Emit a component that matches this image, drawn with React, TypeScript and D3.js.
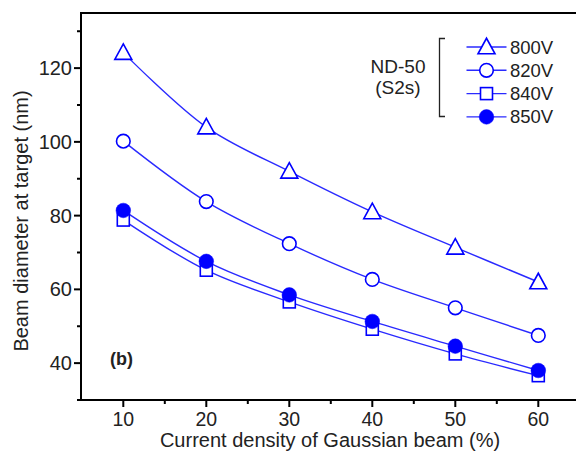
import React from "react";
import * as d3 from "d3";

const currentDensity = [10, 20, 30, 40, 50, 60];
const v800 = [124.2, 104, 92, 81, 71.4, 62];
const v820 = [100.2, 83.8, 72.4, 62.7, 55, 47.5];
const v840 = [78.8, 65.2, 56.6, 49.2, 42.5, 36.6];
const v850 = [81.4, 67.6, 58.5, 51.3, 44.6, 38];
const seriesNames = ["800V", "820V", "840V", "850V"];
const xMajorTicks = [10, 20, 30, 40, 50, 60];
const xMinorTicks = [15, 25, 35, 45, 55, 65];
const yMajorTicks = [40, 60, 80, 100, 120];
const yMinorTicks = [30, 50, 70, 90, 110, 130];

const W = 576;
const H = 457;
const FONT = "'Liberation Sans', Arial, Helvetica, sans-serif";
const BLUE = "#0000ff";
const LINE = "#2a2aff";
const TEXT = "#222";

const x = d3.scaleLinear().domain([5, 65]).range([81.8, 579.8]);
const y = d3.scaleLinear().domain([30, 135]).range([400, 12.8]);

type Kind = "tri" | "circ" | "sq" | "dot";

function Marker({ kind, cx, cy }: { kind: Kind; cx: number; cy: number }) {
  if (kind === "tri") {
    const h = 15.5, w = 17;
    const pts = [
      [cx, cy - h / 2 - 1],
      [cx + w / 2, cy + h / 2 - 1],
      [cx - w / 2, cy + h / 2 - 1],
    ];
    return <polygon points={pts.map((p) => p.join(",")).join(" ")} fill="#fff" stroke={BLUE} strokeWidth={1.6} />;
  }
  if (kind === "circ") return <circle cx={cx} cy={cy} r={6.8} fill="#fff" stroke={BLUE} strokeWidth={1.6} />;
  if (kind === "sq") return <rect x={cx - 6} y={cy - 6} width={12} height={12} fill="#fff" stroke={BLUE} strokeWidth={1.6} />;
  return <circle cx={cx} cy={cy} r={7.3} fill={BLUE} stroke={BLUE} strokeWidth={0.5} />;
}

export default function App() {
  const series: { name: string; vals: number[]; kind: Kind }[] = [
    { name: seriesNames[0], vals: v800, kind: "tri" },
    { name: seriesNames[1], vals: v820, kind: "circ" },
    { name: seriesNames[2], vals: v840, kind: "sq" },
    { name: seriesNames[3], vals: v850, kind: "dot" },
  ];
  const line = d3
    .line<number>()
    .x((_, i) => x(currentDensity[i]))
    .y((d) => y(d))
    .curve(d3.curveCatmullRom.alpha(0.5));

  const axisX = 81;
  const axisY = 400;

  return (
    <svg width={W} height={H} style={{ position: "absolute", left: 0, top: 0, display: "block" }} fontFamily={FONT}>
      <rect width={W} height={H} fill="#fff" />
      {/* frame */}
      <line x1={axisX} x2={W} y1={13} y2={13} stroke="#000" strokeWidth={2} />
      <line x1={axisX} x2={axisX} y1={12} y2={axisY + 1} stroke="#000" strokeWidth={2} />
      <line x1={axisX - 1} x2={W} y1={axisY} y2={axisY} stroke="#000" strokeWidth={2} />
      {/* y ticks */}
      {yMajorTicks.map((t) => (
        <g key={"ym" + t}>
          <line x1={axisX - 7} x2={axisX} y1={y(t)} y2={y(t)} stroke="#000" strokeWidth={2} />
          <text x={72} y={y(t) + 7} textAnchor="end" fontSize={20} fill={TEXT}>
            {t}
          </text>
        </g>
      ))}
      {yMinorTicks.map((t) => (
        <line key={"yn" + t} x1={axisX - 4} x2={axisX} y1={y(t)} y2={y(t)} stroke="#000" strokeWidth={2} />
      ))}
      {/* x ticks */}
      {xMajorTicks.map((t) => (
        <g key={"xm" + t}>
          <line x1={x(t)} x2={x(t)} y1={axisY} y2={axisY + 7} stroke="#000" strokeWidth={2} />
          <text x={x(t)} y={425.5} textAnchor="middle" fontSize={19.5} fill={TEXT}>
            {t}
          </text>
        </g>
      ))}
      {xMinorTicks.map((t) => (
        <line key={"xn" + t} x1={x(t)} x2={x(t)} y1={axisY} y2={axisY + 4} stroke="#000" strokeWidth={2} />
      ))}
      {/* axis titles */}
      <text x={330} y={447} textAnchor="middle" fontSize={20} fill={TEXT}>
        Current density of Gaussian beam (%)
      </text>
      <text transform={`translate(28,${221}) rotate(-90)`} textAnchor="middle" fontSize={20} fill={TEXT}>
        Beam diameter at target (nm)
      </text>
      {/* panel label */}
      <text x={110} y={365} fontSize={18} fontWeight="bold" fill={TEXT}>
        (b)
      </text>
      {/* series lines */}
      {series.map((s) => (
        <path key={"l" + s.name} d={line(s.vals) || ""} fill="none" stroke={LINE} strokeWidth={1.4} />
      ))}
      {/* markers */}
      {series.map((s) =>
        s.vals.map((v, i) => <Marker key={s.name + i} kind={s.kind} cx={x(currentDensity[i])} cy={y(v)} />)
      )}
      {/* legend */}
      <text x={398} y={73} textAnchor="middle" fontSize={19} fill={TEXT}>
        ND-50
      </text>
      <text x={398} y={94} textAnchor="middle" fontSize={19} fill={TEXT}>
        (S2s)
      </text>
      <path d="M445,38.5 H439.5 V116.5 H445" fill="none" stroke="#222" strokeWidth={1.3} />
      {series.map((s, i) => {
        const ly = 47 + i * 23.3;
        return (
          <g key={"lg" + s.name}>
            <line x1={466.5} x2={506.5} y1={ly} y2={ly} stroke={LINE} strokeWidth={1.4} />
            <Marker kind={s.kind} cx={486.5} cy={ly} />
            <text x={510} y={ly + 6.5} fontSize={18.5} fill={TEXT}>
              {s.name}
            </text>
          </g>
        );
      })}
    </svg>
  );
}
